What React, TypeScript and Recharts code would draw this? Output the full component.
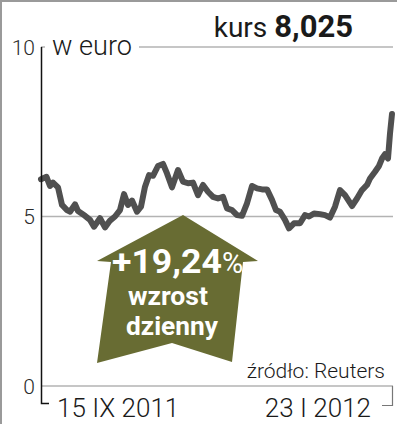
import { LineChart, Line, XAxis, YAxis, CartesianGrid } from 'recharts'

// trading day index (0 = 15 IX 2011) and closing price in EUR
const days = [0, 5.5, 9, 12, 17, 21, 26, 29, 34, 37, 44, 49, 53, 59, 64, 69, 74, 79, 83, 87, 91, 96, 100, 104, 108, 112, 117, 122, 126, 131, 137, 142, 147, 152, 157, 162, 167, 172, 177, 182, 186, 191, 196, 201, 206, 211, 216, 221, 226, 231, 235, 239, 244, 248, 253, 259, 264, 268, 273, 279, 284, 289, 294, 299, 304, 311, 316, 321, 326, 329, 334, 338, 341, 344, 347, 349, 351]
const prices = [6.1, 6.17, 5.9, 6.0, 5.86, 5.34, 5.19, 5.14, 5.36, 5.16, 5.02, 4.9, 4.7, 4.95, 4.68, 4.88, 5.0, 5.19, 5.66, 5.34, 5.47, 5.14, 5.29, 5.88, 6.22, 6.2, 6.49, 6.55, 6.27, 5.86, 6.37, 6.03, 5.98, 6.0, 5.63, 5.93, 5.73, 5.58, 5.53, 5.58, 5.24, 5.19, 5.04, 5.02, 5.39, 5.9, 5.83, 5.8, 5.8, 5.49, 5.19, 5.14, 4.9, 4.65, 4.8, 4.8, 5.04, 5.0, 5.09, 5.07, 5.04, 4.97, 5.29, 5.78, 5.63, 5.31, 5.53, 5.78, 5.93, 6.12, 6.32, 6.49, 6.71, 6.84, 6.71, 7.45, 8.025]

const yTicks = [0, 5, 10]
const xTicks = [0, 351]
const xTickLabels = ['15 IX 2011', '23 I 2012']

const lastPrice = '8,025'
const dailyChange = '+19,24'

const data = days.map((d, i) => ({ day: d, price: prices[i] }))

const FONT = 'Roboto, "Liberation Sans", sans-serif'
const GREEN = '#686c33'

const YTick = ({ y, payload }: any) => (
  <text x={35} y={y} dy="0.36em" textAnchor="end" fontFamily={FONT} fontWeight={300} fontSize={21} fill="#2b2b2b">
    {payload.value}
  </text>
)

const XTick = ({ x, payload, index }: any) => {
  const first = index === 0
  return (
    <text
      x={first ? x + 16 : x - 14}
      y={417}
      textAnchor={first ? 'start' : 'end'}
      fontFamily={FONT}
      fontWeight={300}
      fontSize={26}
      fill="#1a1a1a"
    >
      {xTickLabels[xTicks.indexOf(payload.value)]}
    </text>
  )
}

export default function App() {
  return (
    <div style={{ position: 'absolute', top: 0, left: 0, width: 397, height: 424, background: '#fff', overflow: 'hidden' }}>
      <LineChart width={397} height={424} data={data} margin={{ top: 47, right: 4, left: 0, bottom: 0 }}>
        <CartesianGrid vertical={false} stroke="#b3b3b3" strokeWidth={1.5} />
        <XAxis
          dataKey="day"
          type="number"
          domain={[0, 352]}
          ticks={xTicks}
          height={38}
          axisLine={false}
          tickLine={false}
          tick={<XTick />}
        />
        <YAxis domain={[0, 10]} ticks={yTicks} width={41} axisLine={false} tickLine={false} tick={<YTick />} />
        <Line
          dataKey="price"
          type="linear"
          stroke="#505050"
          strokeWidth={6}
          strokeLinejoin="round"
          strokeLinecap="round"
          dot={false}
          isAnimationActive={false}
        />
      </LineChart>

      <svg width={397} height={424} style={{ position: 'absolute', top: 0, left: 0, pointerEvents: 'none' }}>
        {/* frame */}
        <line x1={0} y1={1} x2={397} y2={1} stroke="#9a9a9a" strokeWidth={2} />
        <line x1={1} y1={0} x2={1} y2={424} stroke="#9a9a9a" strokeWidth={2} />

        {/* unit label over the top gridline */}
        <rect x={45} y={33} width={94} height={26} fill="#fff" />
        <text x={52} y={55} fontFamily={FONT} fontWeight={300} fontSize={27} fill="#1a1a1a" textLength={80} lengthAdjust="spacingAndGlyphs">w euro</text>

        {/* axis brackets */}
        <polyline points="41.5,47 41.5,403.5 49,403.5" fill="none" stroke="#111" strokeWidth={1.5} />
        <polyline points="392.5,386 392.5,405.5 382,405.5" fill="none" stroke="#777" strokeWidth={1.2} />

        <text x={353} y={37} textAnchor="end" fontFamily={FONT} fill="#1a1a1a">
          <tspan fontSize={28} fontWeight={400}>kurs </tspan>
          <tspan fontSize={31} fontWeight={700}>{lastPrice}</tspan>
        </text>

        {/* change badge */}
        <polygon
          points="183,215 258,261 243,262 232,362 172,343 97,363 111,262 97,261"
          fill={GREEN}
        />
        <text x={112} y={273} fontFamily={FONT} fill="#fff">
          <tspan fontSize={33} fontWeight={700} textLength={110} lengthAdjust="spacingAndGlyphs">{dailyChange}</tspan>
          <tspan fontSize={29} fontWeight={400}>%</tspan>
        </text>
        <text x={168} y={305} textAnchor="middle" fontFamily={FONT} fontWeight={700} fontSize={25} fill="#fff" textLength={80} lengthAdjust="spacingAndGlyphs">wzrost</text>
        <text x={172} y={335} textAnchor="middle" fontFamily={FONT} fontWeight={700} fontSize={25} fill="#fff" textLength={92} lengthAdjust="spacingAndGlyphs">dzienny</text>

        <text x={385} y={378} textAnchor="end" fontFamily={FONT} fontWeight={300} fontSize={21} fill="#1a1a1a">źródło: Reuters</text>
      </svg>
    </div>
  )
}
